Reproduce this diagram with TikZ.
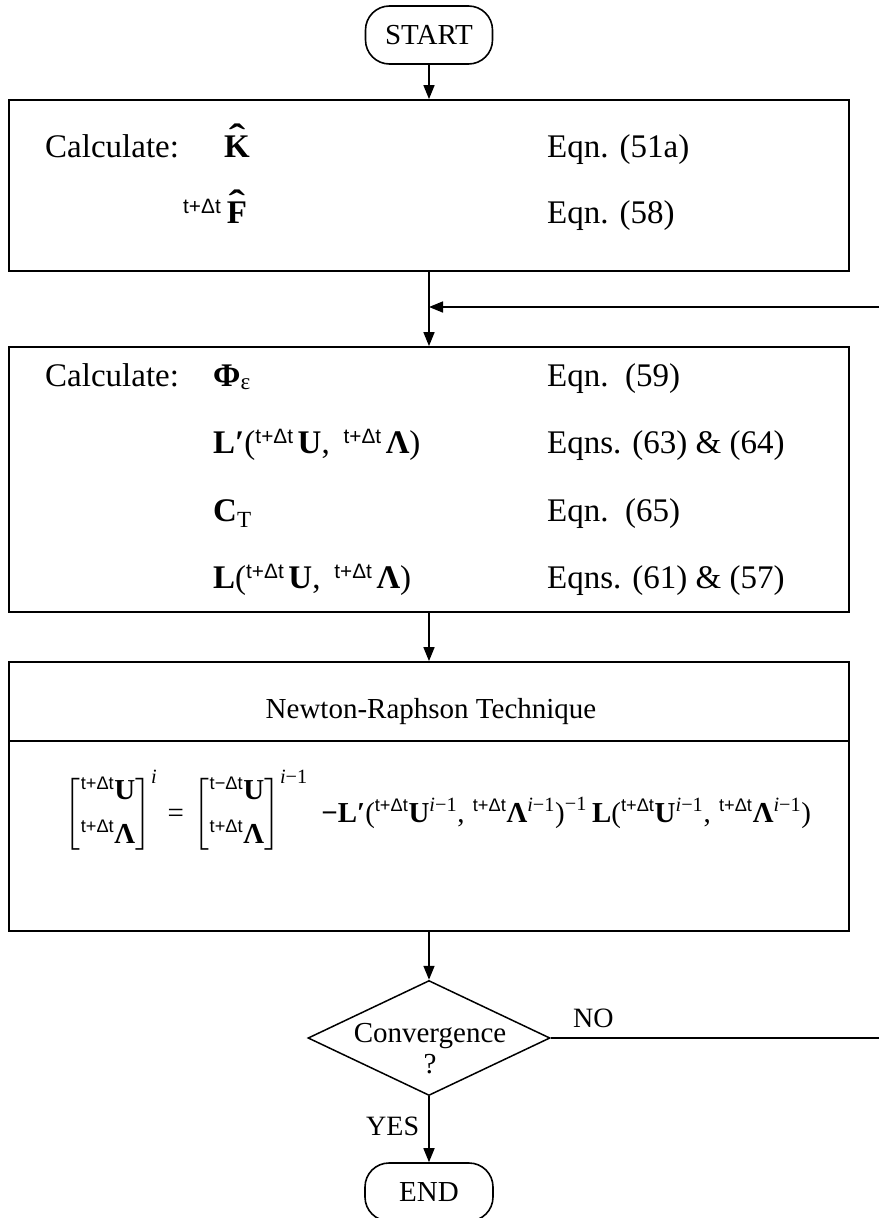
\documentclass[tikz,border=0pt]{standalone}
\usepackage{fontspec}
\usepackage{amsmath}
\usepackage{graphicx}
\setmainfont{Liberation Serif}
\newfontfamily\prefont{Liberation Sans}
\usetikzlibrary{arrows.meta,shapes.geometric}

% bold symbols and time prescripts
\newcommand\bU{\text{\bfseries U}}
\newcommand\bLam{\text{\bfseries Λ}}
\newcommand\tdt{{}^{\text{\prefont\scalebox{0.9}{t+Δt}}}}
\newcommand\tmdt{{}^{\text{\prefont\scalebox{0.9}{t−Δt}}}}
\newcommand\iml{^{\text{\itshape i\/\upshape −1}}}
% bold letter with a hat
\newcommand\bhat[1]{\ooalign{\bfseries #1\cr\hidewidth\raisebox{0.24em}{\bfseries\scalebox{1.5}[1.1]{ˆ}}\hidewidth\cr}}

\tikzset{
  conn/.style={line width=1.6pt},
  arr/.style={conn, -{Triangle[length=14pt,width=11pt]}},
  term/.style={draw, line width=1.6pt, rounded corners=24pt, minimum width=127pt,
    minimum height=58pt, inner sep=0pt, font=\fontsize{29}{34}\selectfont},
  proc/.style={draw, line width=1.8pt, minimum width=840pt, inner sep=0pt},
  txt/.style={anchor=base west, inner sep=0pt, font=\fontsize{33}{40}\selectfont},
  lab/.style={anchor=base west, inner sep=0pt, font=\fontsize{28}{32}\selectfont},
}

\begin{document}
\begin{tikzpicture}[x=1pt, y=-1pt]
\fill[white] (0,0) rectangle (879,1218);
\useasboundingbox (0,0) rectangle (879,1218);
\clip (0,0) rectangle (879,1218);

% terminals, process boxes and decision
\node[term] (start) at (429,35) {START};
\node[proc, minimum height=171pt] (box1) at (429,185.5) {};
\node[proc, minimum height=265pt] (box2) at (429,479.5) {};
\node[proc, minimum height=269pt] (box3) at (429,796.5) {};
\node[draw, diamond, line width=1.5pt, minimum width=242pt, minimum height=115pt,
  inner sep=0pt] (dia) at (429,1038) {};
\node[term, minimum width=128pt] (end) at (429,1192) {END};

% first box
\node[txt] (calc1) at (45,157) {Calculate:};
\node[txt] (khat) at (224,157) {\bhat{K}};
\node[txt] (fhat) at (183,223) {$\tdt$\,\bhat{F}};
\node[txt] (eq51) at (547,157) {Eqn. (51a)};
\node[txt] (eq58) at (547,223) {Eqn. (58)};

% second box
\node[txt] (calc2) at (45,386) {Calculate:};
\node[txt] (phi) at (213,386) {$\text{\bfseries Φ}_{\text{ε}}$};
\node[txt] (lprime) at (213,453) {$\text{\bfseries L′}\text{(}\tdt\,\bU\text{,}\;\;\tdt\,\bLam\text{)}$};
\node[txt] (ct) at (213,521) {$\text{\bfseries C}_{\text{T}}$};
\node[txt] (lres) at (213,588) {$\text{\bfseries L}\text{(}\tdt\,\bU\text{,}\;\;\tdt\,\bLam\text{)}$};
\node[txt] (eq59) at (547,386) {Eqn.\ \ (59)};
\node[txt] (eq63) at (547,453) {Eqns. (63) \& (64)};
\node[txt] (eq65) at (547,521) {Eqn.\ \ (65)};
\node[txt] (eq61) at (547,588) {Eqns. (61) \& (57)};

% Newton-Raphson box
\node[anchor=base, inner sep=0pt, font=\fontsize{29}{34}\selectfont] (nrtitle) at (431,718) {Newton-Raphson Technique};
\coordinate (divL) at (9,741);
\coordinate (divR) at (849,741);
\draw[line width=1.8pt] (divL) -- (divR);
\node[inner sep=0pt] (nreq) at (438,812) {\resizebox{746pt}{!}{\fontsize{20}{24}\selectfont
  $\left[\vcenter{\hbox{\begin{tabular}{@{}l@{}}$\tdt\bU$\\[6pt]$\tdt\bLam$\end{tabular}}}\right]^{\text{\itshape i}}
  \,\text{=}\,
  \left[\vcenter{\hbox{\begin{tabular}{@{}l@{}}$\tmdt\bU$\\[6pt]$\tdt\bLam$\end{tabular}}}\right]\iml
  \;
  \text{\bfseries −L′}\text{(}\tdt\bU\iml\text{,}\;\tdt\bLam\iml\text{)}^{\text{−1}}\,
  \text{\bfseries L}\text{(}\tdt\bU\iml\text{,}\;\tdt\bLam\iml\text{)}$}};

% decision texts
\node[anchor=base, inner sep=0pt, font=\fontsize{29}{34}\selectfont] (conv) at (430,1042) {Convergence};
\node[anchor=base, inner sep=0pt, font=\fontsize{29}{34}\selectfont] (qmark) at (430,1073) {?};
\node[lab] (no) at (573,1027) {NO};
\node[lab] (yes) at (366,1135) {YES};

% connectors
\coordinate (loopIn) at (879,307);
\coordinate (loopJoin) at (429,307);
\coordinate (noOut) at (879,1038);
\draw[arr] (start.south) -- (box1.north);
\draw[arr] (box1.south) -- (box2.north);
\draw[arr] (loopIn) -- (loopJoin);
\draw[arr] (box2.south) -- (box3.north);
\draw[arr] (box3.south) -- (dia.north);
\draw[conn] (dia.east) -- (noOut);
\draw[arr] (dia.south) -- (end.north);
\end{tikzpicture}
\end{document}
